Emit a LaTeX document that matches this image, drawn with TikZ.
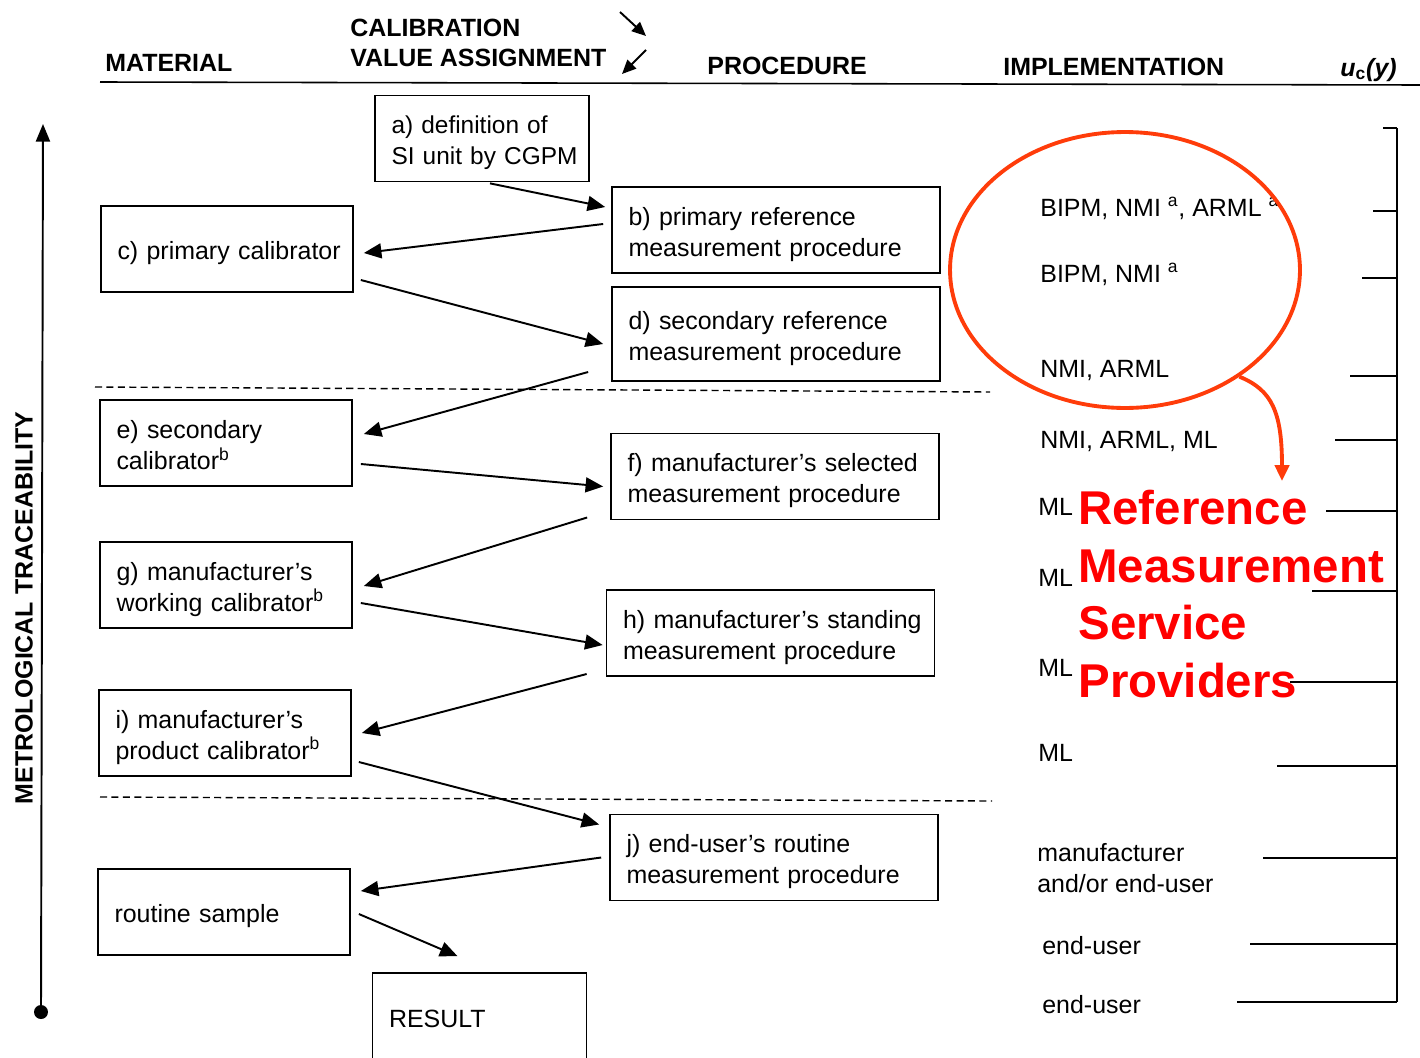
\documentclass[tikz,border=0pt]{standalone}
\usepackage{fontspec}
\setmainfont{Liberation Sans}
\usepackage{tikz}
\usetikzlibrary{arrows.meta}
\usetikzlibrary{calc}
\usetikzlibrary{shapes.geometric}

\definecolor{rmsorange}{RGB}{255,60,10}
\definecolor{rmsred}{RGB}{255,0,0}

\begin{document}
\begin{tikzpicture}[x=0.02cm, y=-0.02cm,
    font=\fontsize{14.2}{17.6}\selectfont,
    box/.style={draw, line width=1pt, minimum height=1.72cm, inner xsep=0.33cm, align=left,
        execute at begin node=\rule{0pt}{15pt}, execute at end node=\rule[-2.5pt]{0pt}{2.5pt}},
    matbox/.style={box, text width=4.38cm},
    procbox/.style={box, text width=5.9cm},
    topbox/.style={box, text width=3.62cm},
    arr/.style={line width=1.1pt, -{Triangle[length=10pt, width=8.5pt]}},
    head/.style={font=\fontsize{14.2}{17}\selectfont\bfseries, anchor=base west, inner sep=0},
    impl/.style={anchor=base west, inner sep=0},
    sep/.style={line width=0.8pt, dash pattern=on 4pt off 2.5pt},
    rmstext/.style={text=rmsred, font=\fontsize{27}{32.7}\selectfont\bfseries, align=left, anchor=north west, inner sep=0}]
    \useasboundingbox (0,0) rectangle (1420,1058);

    % headings
    \node[head] (hmat) at (105,71) {MATERIAL};
    \node[head, align=left, anchor=north west] (hcal) at (350,19) {CALIBRATION\\VALUE ASSIGNMENT};
    \node[head] (hproc) at (707,74) {PROCEDURE};
    \node[head] (himpl) at (1003,75) {IMPLEMENTATION};
    \node[head] (huc) at (1340,76) {\textit{u}\textsubscript{c}\textit{(y)}};
    \draw[line width=1.1pt, -{Triangle[length=8pt, width=7pt]}] (620,12) -- (646,36);
    \draw[line width=1.1pt, -{Triangle[length=8pt, width=7pt]}] (646,50) -- (622,74);
    \draw[line width=0.9pt] (100,82) -- (1420,85);

    % traceability axis
    \coordinate (tbot) at (41,1012);
    \coordinate (ttop) at (43,124);
    \draw[line width=1.1pt, -{Triangle[length=10pt, width=8pt]}] (tbot) -- (ttop);
    \fill (tbot) circle (0.14cm);
    \node[head, anchor=center, rotate=90] (trace) at (24,608) {METROLOGICAL TRACEABILITY};

    % material and procedure boxes
    \node[topbox, font=\fontsize{13.9}{17.6}\selectfont] (a) at (482,138.5) {\mbox{a) definition of}\\\mbox{SI unit by CGPM}};
    \node[procbox] (b) at (776,230) {b) primary reference\\measurement procedure};
    \node[matbox] (c) at (227,249) {\mbox{c) primary calibrator}};
    \node[procbox, minimum height=1.88cm] (d) at (776,334) {d) secondary reference\\measurement procedure};
    \node[matbox] (e) at (226,443) {e) secondary\\calibrator\textsuperscript{b}};
    \node[procbox] (f) at (775,476.5) {\mbox{f) manufacturer's selected}\\measurement procedure};
    \node[matbox] (g) at (226,585) {g) manufacturer's\\working calibrator\textsuperscript{b}};
    \node[procbox] (h) at (770.5,633) {\mbox{h) manufacturer's standing}\\measurement procedure};
    \node[matbox] (i) at (225,733) {i) manufacturer's\\product calibrator\textsuperscript{b}};
    \node[procbox] (j) at (774,857.5) {j) end-user's routine\\measurement procedure};
    \node[matbox] (rs) at (224,912) {routine sample};
    \node[topbox, minimum height=1.76cm] (res) at (479.5,1017) {RESULT};

    \draw[sep] (95,387) -- (990,392);
    \draw[sep] (100,797) -- (992,801);

    \draw[arr] ($(a.south)+(8,1)$) -- ($(b.west)+(-6,-23)$);
    \draw[arr] ($(b.west)+(-8,-6)$) -- ($(c.east)+(10,4)$);
    \draw[arr] ($(c.east)+(7,31)$) -- ($(d.west)+(-8,10)$);
    \draw[arr] ($(d.west)+(-23,38)$) -- ($(e.east)+(11,-9)$);
    \draw[arr] ($(e.east)+(8,21)$) -- ($(f.west)+(-7,10)$);
    \draw[arr] ($(f.west)+(-23,41)$) -- ($(g.east)+(11,1)$);
    \draw[arr] ($(g.east)+(8,18)$) -- ($(h.west)+(-3,12)$);
    \draw[arr] ($(h.west)+(-19,41)$) -- ($(i.east)+(10,0)$);
    \draw[arr] ($(i.east)+(7,29)$) -- ($(j.west)+(-10,-33)$);
    \draw[arr] ($(j.west)+(-8,0)$) -- ($(rs.east)+(10,-21)$);
    \draw[arr] ($(rs.east)+(8,2)$) -- ($(res.north)+(-22,-16)$);

    % implementation
    \node[impl] (p1) at (1040,216) {BIPM, NMI \textsuperscript{a}, ARML \textsuperscript{a}};
    \node[impl] (p2) at (1040,282) {BIPM, NMI \textsuperscript{a}};
    \node[impl] (p3) at (1040,377) {NMI, ARML};
    \node[impl] (p4) at (1040,448) {NMI, ARML, ML};
    \node[impl] (p5) at (1038,515) {ML};
    \node[impl] (p6) at (1038,586) {ML};
    \node[impl] (p7) at (1038,676) {ML};
    \node[impl] (p8) at (1038,761) {ML};
    \node[impl, align=left, anchor=north west] (p9) at (1037,843) {manufacturer\\and/or end-user};
    \node[impl] (p10) at (1042,954) {end-user};
    \node[impl] (p11) at (1042,1013) {end-user};

    % u_c(y) bracket
    \draw[line width=1.1pt] (1397,128) -- (1397,1002);
    \foreach \y/\x in {128/1383, 211/1373, 278/1362, 376/1350, 440/1335, 511/1326,
                       591/1312, 682/1290, 766/1277, 858/1263, 944/1250, 1002/1237}
        \draw[line width=1.1pt] (\x,\y) -- (1397,\y);

    % reference measurement service providers
    \node[draw=rmsorange, line width=2.2pt, ellipse, minimum width=7cm, minimum height=5.52cm, inner sep=0] (rmsp) at (1125,270) {};
    \coordinate (rmstip) at (1282,481);
    \draw[rmsorange, line width=2.2pt, -{Triangle[length=9pt, width=8pt]}] (rmsp.-43) .. controls (1272,390) and (1282,412) .. (rmstip);
    \node[rmstext] (rms) at (1078,490) {Reference\\Measurement\\Service\\Providers};
\end{tikzpicture}
\end{document}
